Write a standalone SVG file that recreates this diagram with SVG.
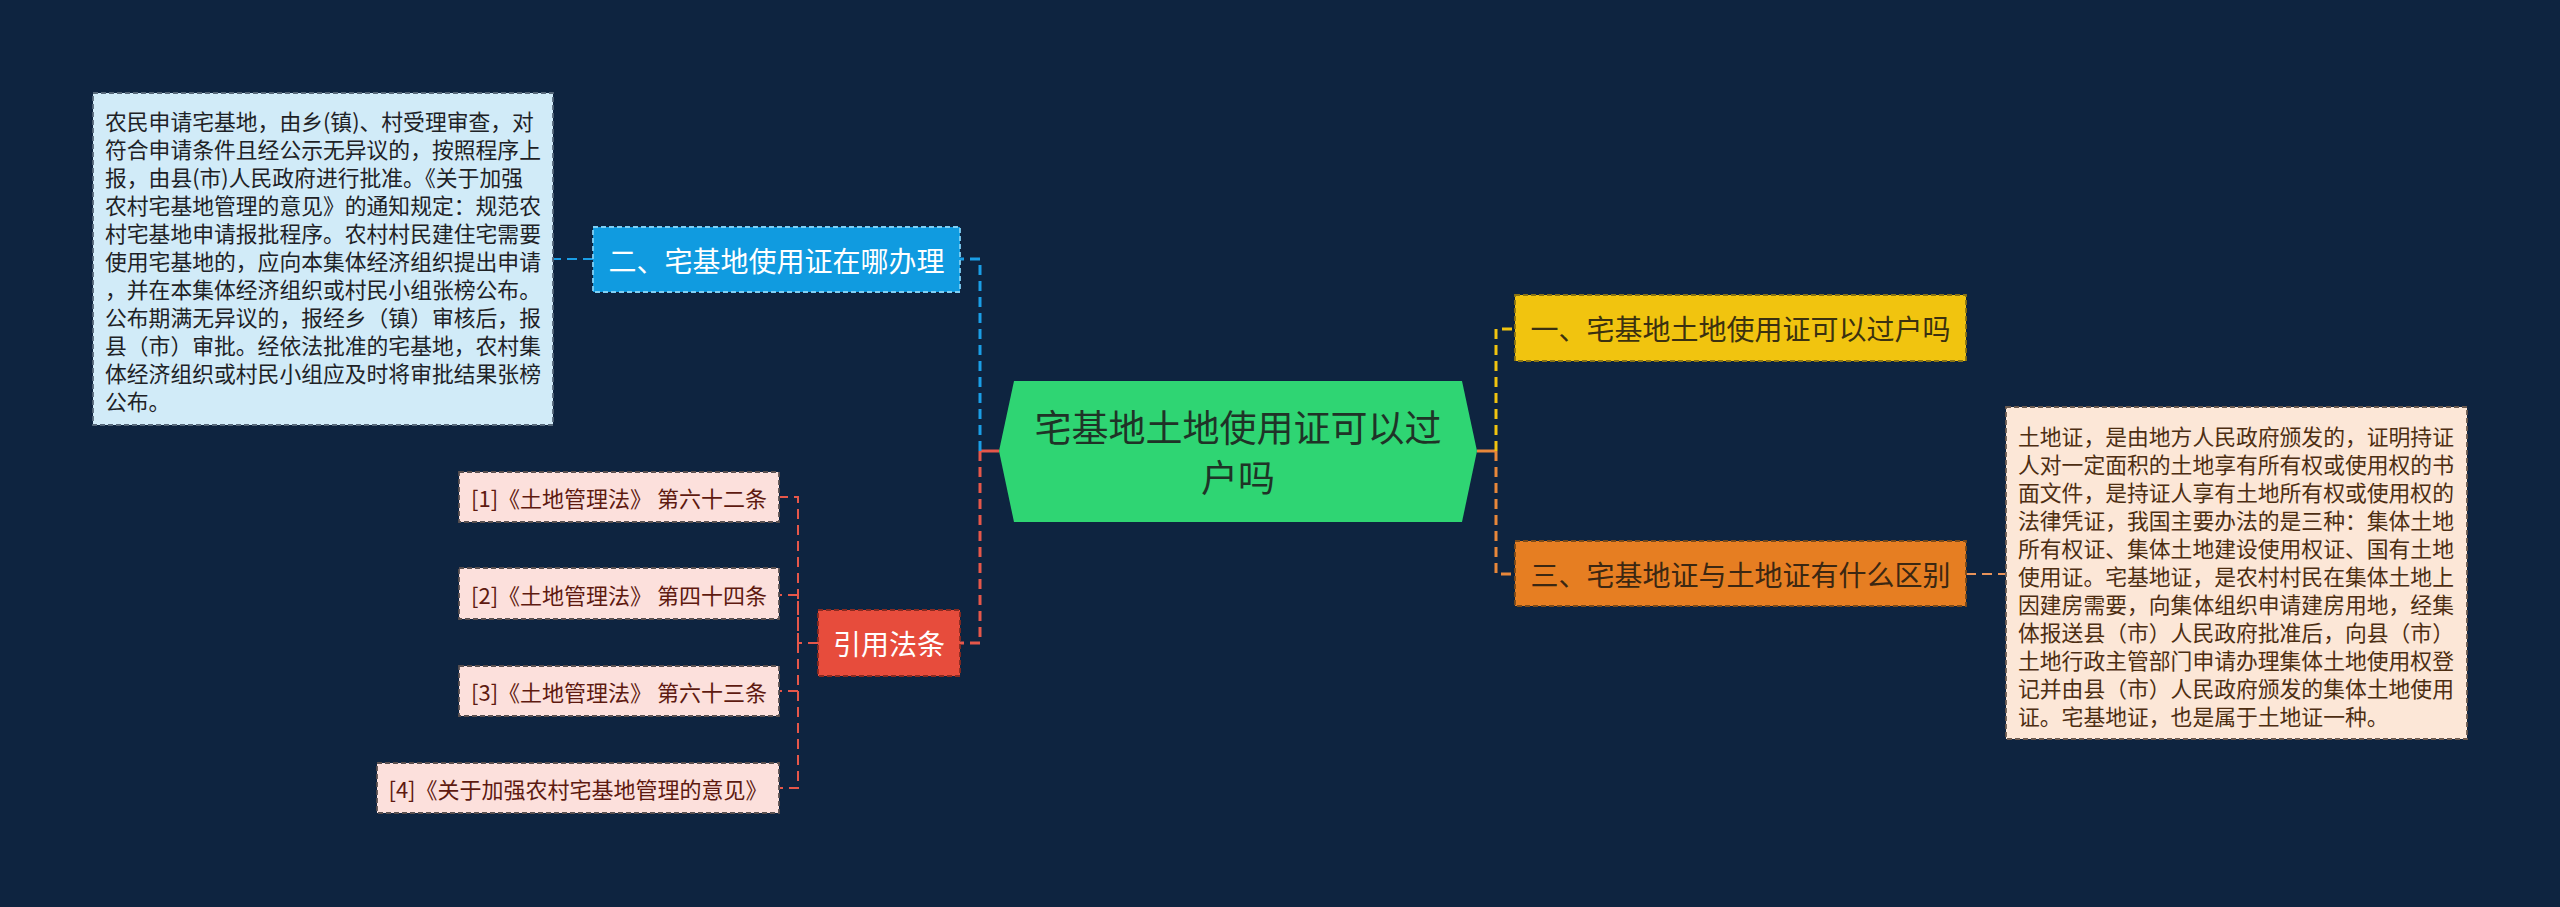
<svg xmlns="http://www.w3.org/2000/svg" width="2560" height="907" viewBox="0 0 2560 907">
<defs>
<style>
text{font-family:"Noto Sans CJK SC","Liberation Sans",sans-serif;dominant-baseline:central}
.c{fill:none;stroke-dasharray:10 6}
.main{stroke-width:3}
.sub{stroke-width:2}
.box{stroke-width:1.8;stroke-dasharray:5 3}
.t28{font-size:28px;text-anchor:middle}
.t22{font-size:22px;text-anchor:middle}
.para{font-size:21.8px}
</style>
</defs>
<rect width="2560" height="907" fill="#0e2440"/>
<g id="connectors">
<path d="M999 451 H980" stroke="#e5574a" stroke-width="3" fill="none"/>
<path class="c main" d="M980 451 V259 H960" stroke="#1a9ee6"/>
<path class="c main" d="M980 451 V643 H960" stroke="#e5574a"/>
<path d="M1477 451 H1496" stroke="#e8873a" stroke-width="3" fill="none"/>
<path class="c main" d="M1496 451 V329 H1515" stroke="#f1c40f"/>
<path class="c main" d="M1496 451 V574 H1515" stroke="#e8873a"/>
<path class="c sub" d="M593 259 H553" stroke="#1a9ee6"/>
<path class="c sub" d="M1966 574 H2006" stroke="#e8935a"/>
<path class="c sub" d="M818 643 H798 V497 H780" stroke="#e5574a"/>
<path class="c sub" d="M798 643 V595 H780" stroke="#e5574a"/>
<path class="c sub" d="M798 643 V691 H780" stroke="#e5574a"/>
<path class="c sub" d="M798 643 V788 H780" stroke="#e5574a"/>
</g>
<g id="root">
<polygon points="1014,381 1462,381 1477,451 1462,522 1014,522 999,451" fill="#2fd573"/>
<text x="1238" y="426" font-size="37" text-anchor="middle" fill="#1f3327">宅基地土地使用证可以过</text>
<text x="1238" y="476" font-size="37" text-anchor="middle" fill="#1f3327">户吗</text>
</g>
<g id="n1">
<rect class="box" x="1515" y="295" width="451" height="66" fill="#f1c40f" stroke="#8a7414"/>
<text class="t28" x="1740.5" y="328" fill="#3b3110">一、宅基地土地使用证可以过户吗</text>
</g>
<g id="n3">
<rect class="box" x="1515" y="541" width="451" height="65" fill="#e67e22" stroke="#7a4a1a"/>
<text class="t28" x="1740.5" y="573.5" fill="#3b2712">三、宅基地证与土地证有什么区别</text>
</g>
<g id="n3detail">
<rect class="box" x="2006" y="407" width="461" height="332" fill="#fce7d7" stroke="#6a5a50"/>
<text class="para" fill="#4d2e12">
<tspan x="2018" y="435">土地证，是由地方人民政府颁发的，证明持证</tspan>
<tspan x="2018" y="463">人对一定面积的土地享有所有权或使用权的书</tspan>
<tspan x="2018" y="491">面文件，是持证人享有土地所有权或使用权的</tspan>
<tspan x="2018" y="519">法律凭证，我国主要办法的是三种：集体土地</tspan>
<tspan x="2018" y="547">所有权证、集体土地建设使用权证、国有土地</tspan>
<tspan x="2018" y="575">使用证。宅基地证，是农村村民在集体土地上</tspan>
<tspan x="2018" y="603">因建房需要，向集体组织申请建房用地，经集</tspan>
<tspan x="2018" y="631">体报送县（市）人民政府批准后，向县（市）</tspan>
<tspan x="2018" y="659">土地行政主管部门申请办理集体土地使用权登</tspan>
<tspan x="2018" y="687">记并由县（市）人民政府颁发的集体土地使用</tspan>
<tspan x="2018" y="715">证。宅基地证，也是属于土地证一种。</tspan>
</text>
</g>
<g id="n2">
<rect class="box" x="593" y="227" width="367" height="65" fill="#109be0" stroke="#7fd0f5"/>
<text class="t28" x="776.5" y="259.5" fill="#ffffff">二、宅基地使用证在哪办理</text>
</g>
<g id="n2detail">
<rect class="box" x="93" y="93" width="460" height="332" fill="#d1ebf8" stroke="#56687a"/>
<text class="para" fill="#1e2226">
<tspan x="105" y="120">农民申请宅基地，由乡(镇)、村受理审查，对</tspan>
<tspan x="105" y="148">符合申请条件且经公示无异议的，按照程序上</tspan>
<tspan x="105" y="176">报，由县(市)人民政府进行批准。《关于加强</tspan>
<tspan x="105" y="204">农村宅基地管理的意见》的通知规定：规范农</tspan>
<tspan x="105" y="232">村宅基地申请报批程序。农村村民建住宅需要</tspan>
<tspan x="105" y="260">使用宅基地的，应向本集体经济组织提出申请</tspan>
<tspan x="105" y="288">，并在本集体经济组织或村民小组张榜公布。</tspan>
<tspan x="105" y="316">公布期满无异议的，报经乡（镇）审核后，报</tspan>
<tspan x="105" y="344">县（市）审批。经依法批准的宅基地，农村集</tspan>
<tspan x="105" y="372">体经济组织或村民小组应及时将审批结果张榜</tspan>
<tspan x="105" y="400">公布。</tspan>
</text>
</g>
<g id="refs">
<rect class="box" x="818" y="610" width="142" height="66" fill="#e74c3c" stroke="#8a2a20"/>
<text class="t28" x="889" y="643" fill="#ffffff">引用法条</text>
</g>
<g id="ref1">
<rect class="box" x="459" y="472" width="320" height="50" fill="#fce0dc" stroke="#5a5050"/>
<text class="t22" x="619" y="497" fill="#5e1a10">[1]《土地管理法》 第六十二条</text>
</g>
<g id="ref2">
<rect class="box" x="459" y="568" width="320" height="51" fill="#fce0dc" stroke="#5a5050"/>
<text class="t22" x="619" y="593.5" fill="#5e1a10">[2]《土地管理法》 第四十四条</text>
</g>
<g id="ref3">
<rect class="box" x="459" y="666" width="320" height="50" fill="#fce0dc" stroke="#5a5050"/>
<text class="t22" x="619" y="691" fill="#5e1a10">[3]《土地管理法》 第六十三条</text>
</g>
<g id="ref4">
<rect class="box" x="377" y="763" width="402" height="50" fill="#fce0dc" stroke="#5a5050"/>
<text class="t22" x="578" y="788" fill="#5e1a10">[4]《关于加强农村宅基地管理的意见》</text>
</g>
</svg>
